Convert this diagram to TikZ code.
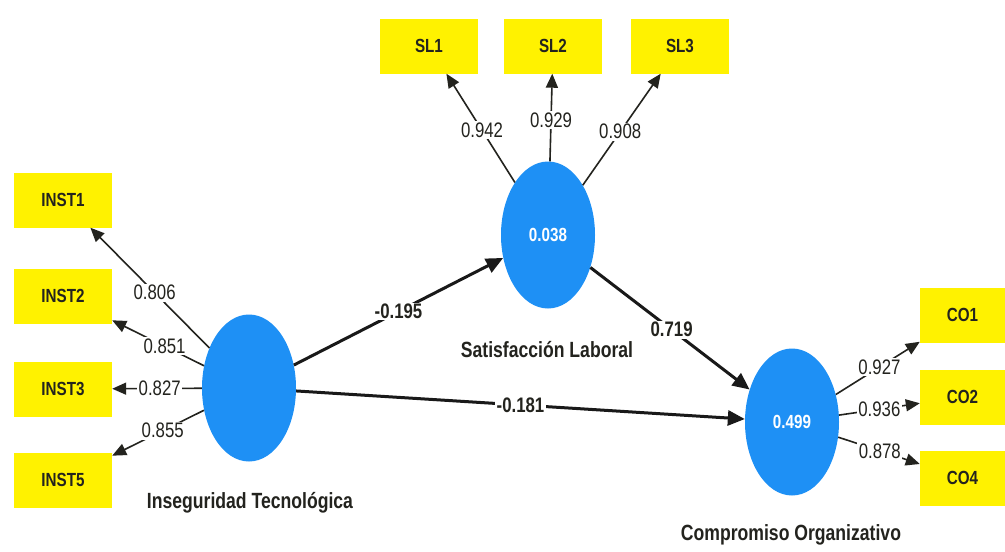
\documentclass[tikz,border=0pt]{standalone}
\usepackage{fontspec}
\setmainfont[FakeStretch=0.8]{Liberation Sans}
\usetikzlibrary{shapes.geometric,arrows.meta}
\definecolor{lvblue}{RGB}{30,144,245}
\definecolor{mvyellow}{RGB}{255,242,0}
\definecolor{txt}{RGB}{35,35,30}
\begin{document}
\begin{tikzpicture}[x=1pt,y=-1pt,
  indicator/.style={rectangle, fill=mvyellow, minimum width=98pt, minimum height=55pt, inner sep=0pt,
    font=\fontsize{19}{22}\selectfont\bfseries, text=txt},
  coind/.style={indicator, minimum width=85pt},
  construct/.style={ellipse, fill=lvblue, minimum width=94pt, minimum height=147pt, inner sep=0pt,
    font=\fontsize{19}{22}\selectfont\bfseries, text=white},
  cname/.style={font=\fontsize{22}{25}\selectfont\bfseries, text=txt},
  loadarrow/.style={line width=1.6pt, draw=txt, -{Triangle[length=14pt,width=12pt]}},
  patharrow/.style={line width=3pt, draw=black!90, -{Triangle[length=17pt,width=15pt]}},
  lval/.style={fill=white, inner sep=1.5pt, font=\fontsize{21}{24}\selectfont, text=txt},
  pval/.style={fill=white, inner sep=1.5pt, font=\fontsize{21}{24}\selectfont\bfseries, text=txt}]
\useasboundingbox (0,0) rectangle (1005,552);
\fill[white] (0,0) rectangle (1005,552);
% constructs
\node[construct] (it) at (249,388) {};
\node[construct] (sl) at (548,235) {0.038};
\node[construct] (co) at (792,422) {0.499};
% indicators
\node[indicator] (inst1) at (63,200) {INST1};
\node[indicator] (inst2) at (63,296) {INST2};
\node[indicator] (inst3) at (63,389) {INST3};
\node[indicator] (inst5) at (63,480) {INST5};
\node[indicator] (sl1) at (429,46) {SL1};
\node[indicator] (sl2) at (553,46) {SL2};
\node[indicator] (sl3) at (680,46) {SL3};
\node[coind] (co1) at (962.5,315) {CO1};
\node[coind] (co2) at (962.5,397) {CO2};
\node[coind] (co4) at (962.5,478) {CO4};
% construct names
\node[cname] (itname) at (250,503) {Inseguridad Tecnológica};
\node[cname] (slname) at (547,350) {Satisfacción Laboral};
\node[cname] (coname) at (791,535) {Compromiso Organizativo};
% outer loadings
\draw[loadarrow] (it) -- node[lval, pos=0.46] {0.806} (inst1);
\draw[loadarrow] (it) -- node[lval, pos=0.43] {0.851} (inst2);
\draw[loadarrow] (it) -- node[lval, pos=0.47] {0.827} (inst3);
\draw[loadarrow] (it) -- node[lval, pos=0.45] {0.855} (inst5);
\draw[loadarrow] (sl) -- node[lval, pos=0.48] {0.942} (sl1);
\draw[loadarrow] (sl) -- node[lval, pos=0.47] {0.929} (sl2);
\draw[loadarrow] (sl) -- node[lval, pos=0.48] {0.908} (sl3);
\draw[loadarrow] (co) -- node[lval, pos=0.52] {0.927} (co1);
\draw[loadarrow] (co) -- node[lval, pos=0.50] {0.936} (co2);
\draw[loadarrow] (co) -- node[lval, pos=0.51] {0.878} (co4);
% path coefficients
\draw[patharrow] (it) -- node[pval, pos=0.5] {-0.195} (sl);
\draw[patharrow] (it) -- node[pval, pos=0.5] {-0.181} (co);
\draw[patharrow] (sl) -- node[pval, pos=0.51] {0.719} (co);
\end{tikzpicture}
\end{document}
